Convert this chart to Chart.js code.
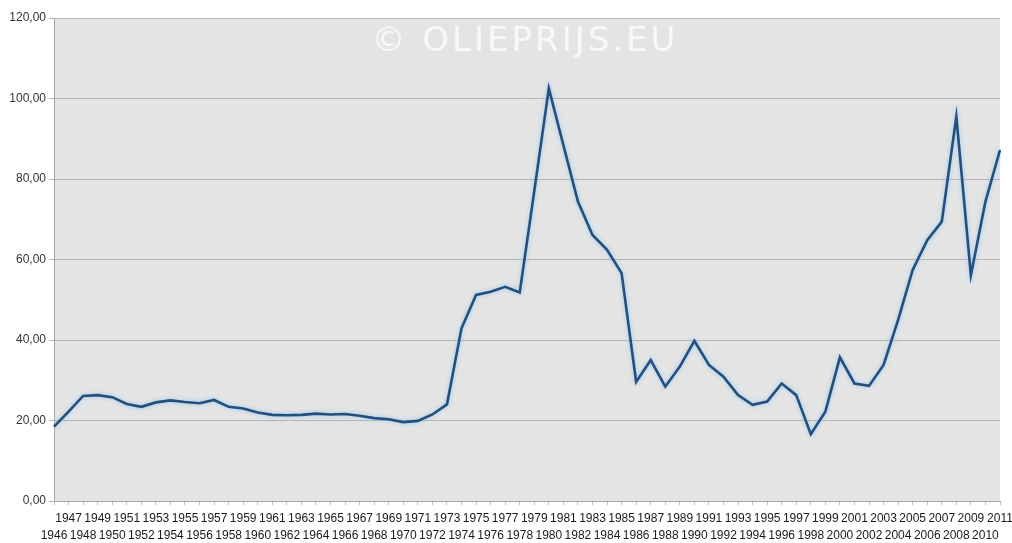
<!DOCTYPE html>
<html>
<head>
<meta charset="utf-8">
<script src="https://cdn.jsdelivr.net/npm/chart.js@4.4.1/dist/chart.umd.min.js"></script>
<style>
  html, body { margin: 0; padding: 0; background: #fff; }
  #wrap { position: relative; width: 1012px; height: 543px; }
  #watermark {
    position: absolute; left: 0; top: 18px; width: 1050px; text-align: center;
    font-family: "DejaVu Sans", sans-serif; font-size: 34px; letter-spacing: 3px;
    color: rgba(255,255,255,0.75); line-height: 42px; pointer-events: none;
  }
</style>
</head>
<body>
<div id="wrap">
  <canvas id="oilChart" width="1012" height="543"></canvas>
  <div id="watermark">© OLIEPRIJS.EU</div>
</div>
<script>
// jaren 1946 - 2011
const years = [
  "1946","1947","1948","1949","1950","1951","1952","1953","1954","1955",
  "1956","1957","1958","1959","1960","1961","1962","1963","1964","1965",
  "1966","1967","1968","1969","1970","1971","1972","1973","1974","1975",
  "1976","1977","1978","1979","1980","1981","1982","1983","1984","1985",
  "1986","1987","1988","1989","1990","1991","1992","1993","1994","1995",
  "1996","1997","1998","1999","2000","2001","2002","2003","2004","2005",
  "2006","2007","2008","2009","2010","2011"
];

const prices = [
  18.5, 22.2, 26.1, 26.3, 25.8, 24.1, 23.4, 24.5, 25.0, 24.6,
  24.3, 25.1, 23.4, 23.0, 22.0, 21.4, 21.3, 21.4, 21.7, 21.5,
  21.6, 21.2, 20.6, 20.3, 19.6, 19.9, 21.5, 24.0, 42.9, 51.2,
  52.0, 53.2, 51.8, 77.0, 102.5, 88.4, 74.4, 66.1, 62.4, 56.6,
  29.6, 35.0, 28.4, 33.4, 39.8, 33.8, 30.9, 26.3, 23.9, 24.7,
  29.2, 26.3, 16.6, 22.2, 35.7, 29.2, 28.6, 33.8, 45.0, 57.4,
  64.8, 69.4, 95.5, 56.1, 74.4, 87.2
];

const yTicks = [0, 20, 40, 60, 80, 100, 120];

// grijze achtergrond van het plotgebied
const plotBackground = {
  id: "plotBackground",
  beforeDraw(chart) {
    const { ctx, chartArea } = chart;
    ctx.save();
    ctx.fillStyle = "#e4e4e4";
    ctx.fillRect(chartArea.left, chartArea.top, chartArea.right - chartArea.left, chartArea.bottom - chartArea.top);
    ctx.restore();
  }
};

// lichte gloed rond de lijn
const lineGlow = {
  id: "lineGlow",
  beforeDatasetsDraw(chart) {
    const ctx = chart.ctx;
    ctx.save();
    ctx.shadowColor = "rgba(140,195,240,0.9)";
    ctx.shadowBlur = 4;
  },
  afterDatasetsDraw(chart) {
    chart.ctx.restore();
  }
};

new Chart(document.getElementById("oilChart"), {
  type: "line",
  data: {
    labels: years,
    datasets: [{
      data: prices,
      borderColor: "#234f7e",
      borderWidth: 2.6,
      pointRadius: 0,
      tension: 0,
      fill: false
    }]
  },
  options: {
    responsive: false,
    animation: false,
    layout: { padding: { top: 18, right: 12, left: 0, bottom: 0 } },
    plugins: {
      legend: { display: false },
      tooltip: { enabled: false }
    },
    scales: {
      x: {
        offset: false,
        border: { color: "#a8a8a8" },
        grid: { display: true, drawOnChartArea: false, drawTicks: true, tickLength: 4, color: "#c4c4c4" },
        ticks: {
          autoSkip: false,
          maxRotation: 0,
          minRotation: 0,
          padding: 5,
          color: "#1a1a1a",
          font: { family: "Liberation Sans, Arial, sans-serif", size: 12, lineHeight: 1.4 },
          callback: function (value, index) {
            const label = years[index];
            return index % 2 === 0 ? ["", label] : [label, ""];
          }
        },
        afterFit: function (scale) {
          scale.height = 42;
          scale.paddingLeft = 0;
          scale.paddingRight = 0;
        }
      },
      y: {
        min: yTicks[0],
        max: yTicks[yTicks.length - 1],
        border: { color: "#a8a8a8" },
        grid: { color: "#b4b4b4", lineWidth: 1, tickLength: 5 },
        ticks: {
          stepSize: 20,
          padding: 3,
          color: "#333",
          font: { family: "Liberation Sans, Arial, sans-serif", size: 12 },
          callback: function (v) { return v.toFixed(2).replace(".", ","); }
        },
        afterFit: function (scale) { scale.width = 54; }
      }
    }
  },
  plugins: [plotBackground, lineGlow]
});
</script>
</body>
</html>
